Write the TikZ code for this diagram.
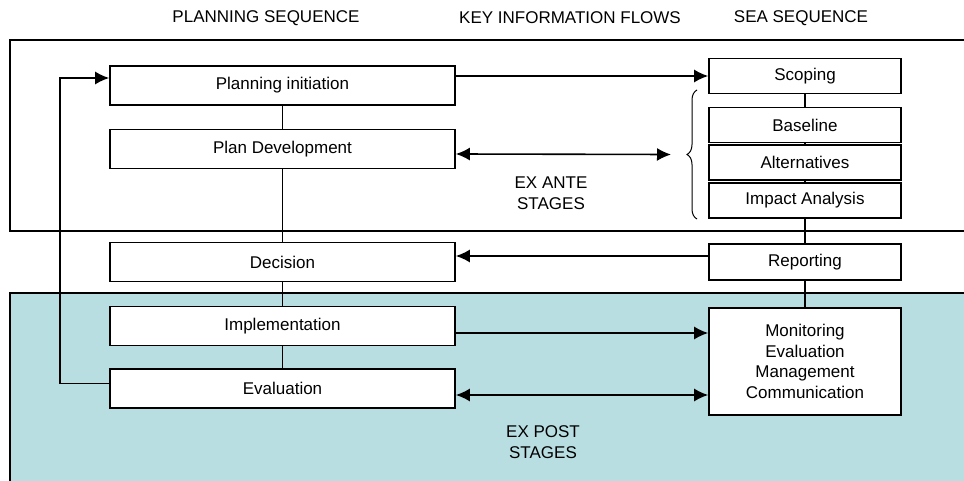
\documentclass[tikz,border=0pt]{standalone}
\usepackage{fontspec}
\setmainfont{Liberation Sans}
\usetikzlibrary{positioning,arrows.meta,decorations.pathreplacing}
\definecolor{postblue}{RGB}{185,222,226}
\tikzset{
     stage/.style   = {draw, fill=white, line width=1.6pt, minimum width=345pt,
                       minimum height=39pt, inner sep=0pt, font=\fontsize{17}{20.5}\selectfont},
     seabox/.style  = {stage, minimum width=192pt, minimum height=35pt},
     heading/.style = {font=\fontsize{17}{20.5}\selectfont, align=center},
     link/.style    = {black, line width=1.6pt},
     flow/.style    = {black, line width=1.6pt, ->, >={Latex[length=14pt,width=13pt]}},
     twoflow/.style = {flow, <->},
    }

\begin{document}
\begin{tikzpicture}[x=1pt,y=-1pt,on grid]
            \useasboundingbox (0,0) rectangle (964,481);
            % stage areas
            \fill[postblue] (10,293) rectangle (964,481);
            \draw[link] (964,293) -- (10,293) -- (10,481);
            \draw[link] (964,40) -- (10,40) -- (10,231) -- (964,231);

            \node [heading] (hplan) at (266,18)  {PLANNING SEQUENCE};
            \node [heading] (hflow) at (570,18)  {KEY INFORMATION FLOWS};
            \node [heading] (hsea)  at (801,18)  {SEA SEQUENCE};

            % planning sequence
            \node [stage] (pinit) at (282.5,85.5)       {Planning initiation};
            \node [stage] (pdev) [below=63.5pt of pinit] {Plan Development};
            \node [stage] (decision) [below=113pt of pdev] {Decision};
            \node [stage] (impl) [below=64pt of decision] {Implementation};
            \node [stage] (eval) [below=62.5pt of impl]  {Evaluation};

            % sea sequence
            \node [seabox] (scoping) at (805,76)          {Scoping};
            \node [seabox] (baseline) [below=49pt of scoping] {Baseline};
            \node [seabox] (alt) [below=37.5pt of baseline]  {Alternatives};
            \node [seabox] (impact) [below=38pt of alt]      {Impact Analysis};
            \node [seabox, minimum height=36pt] (report) [below=61.5pt of impact] {Reporting};
            \node [seabox, minimum height=107pt, align=center] (mon) [below=99.5pt of report]
                  {Monitoring\\Evaluation\\Management\\Communication};

            \node [heading] (exante) at (551,193) {EX ANTE\\STAGES};
            \node [heading] (expost) at (543,442) {EX POST\\STAGES};

            \draw[line width=1pt, decorate, decoration={brace,amplitude=10pt}]
                  (697,219) -- (697,90);
            \coordinate (bracetip) at (671,154.5);

            \draw[link] (pinit) -- (pdev);
            \draw[link] (pdev) -- (decision);
            \draw[link] (decision) -- (impl);
            \draw[link] (impl) -- (eval);
            \draw[link] (scoping) -- (baseline);
            \draw[link] (baseline) -- (alt);
            \draw[link] (alt) -- (impact);
            \draw[link] (impact) -- (report);
            \draw[link] (report) -- (mon);

            \draw[flow] (pinit.east |- scoping.west) -- (scoping.west);
            \draw[twoflow] ([yshift=-5pt]pdev.east) -- (bracetip);
            \draw[flow] ([yshift=6pt]report.west) -- ([yshift=6pt]decision.east);
            \draw[flow] ([yshift=-7pt]impl.east) -- ([yshift=28.5pt]mon.west);
            \draw[twoflow] ([yshift=-6.5pt]eval.east) -- ([yshift=-33.5pt]mon.west);
            \draw[flow] ([yshift=5pt]eval.west) -- ++(-49,0) |- ([yshift=7.5pt]pinit.west);
\end{tikzpicture}
\end{document}
